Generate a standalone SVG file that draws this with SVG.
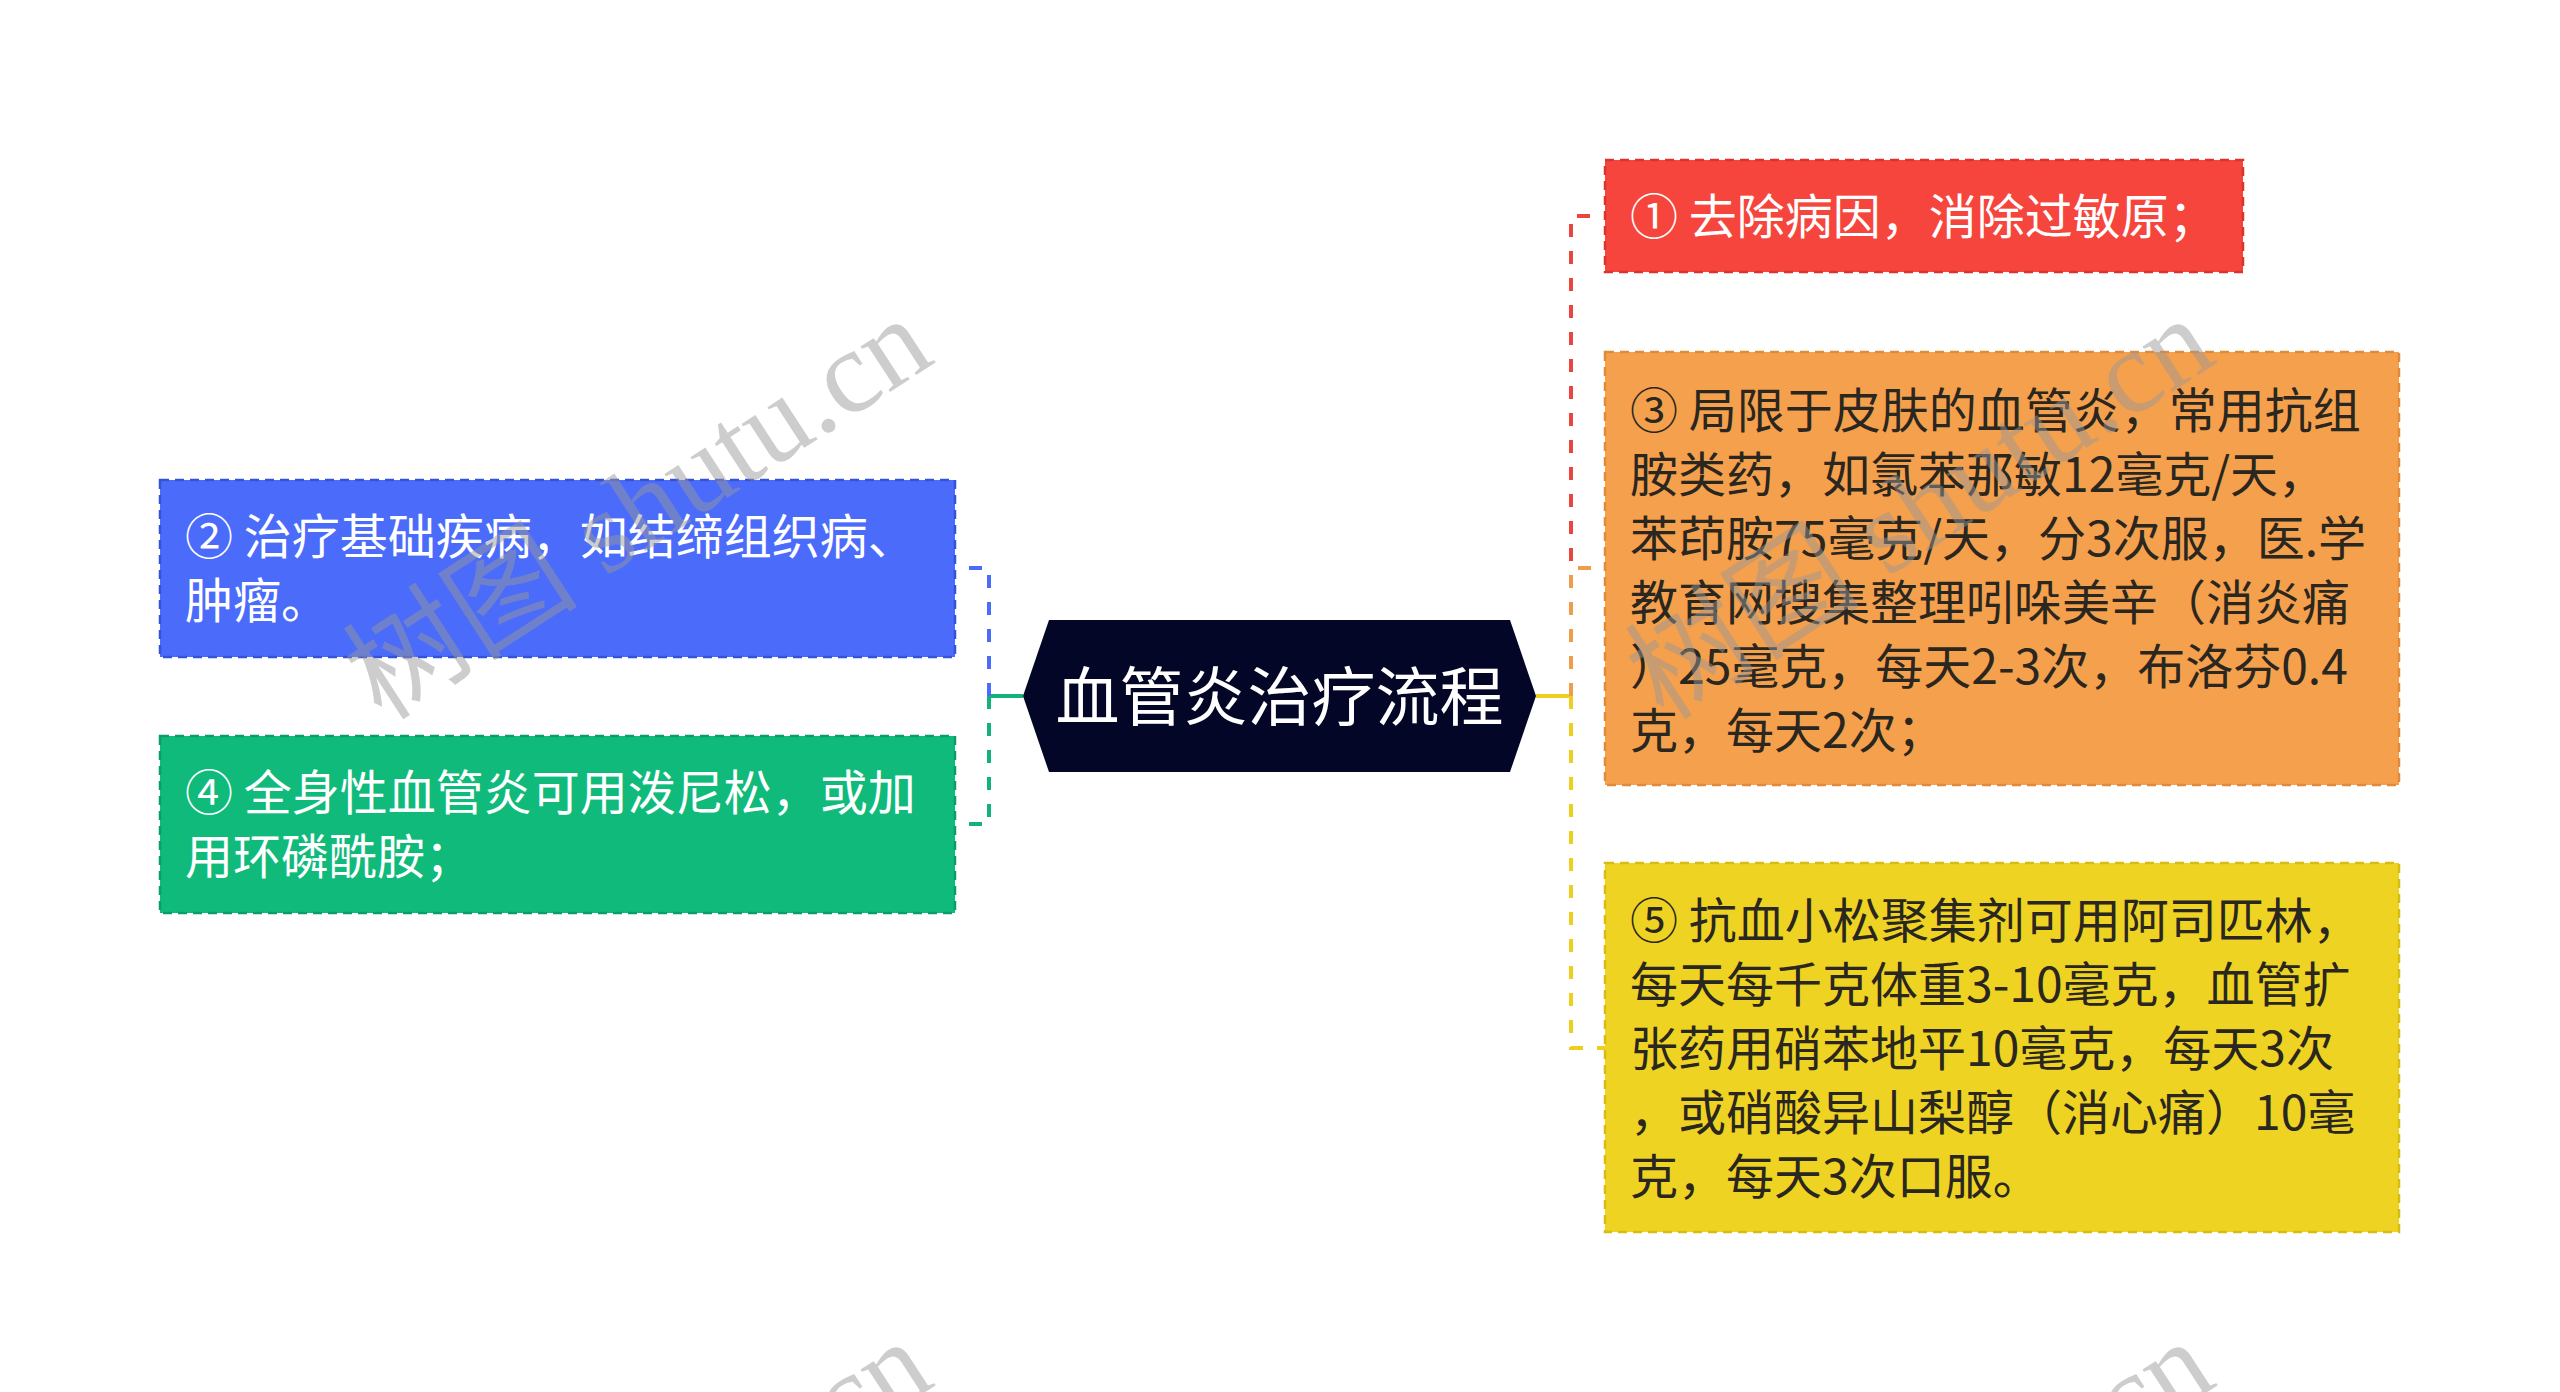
<svg xmlns="http://www.w3.org/2000/svg" width="2560" height="1392" viewBox="0 0 2560 1392">
<style>
.t{font-family:"Noto Sans CJK SC","Noto Sans",sans-serif;font-size:48px}
.w{fill:#ffffff}
.d{fill:#2a2620}
.box{stroke-width:2.5;stroke-dasharray:9 6}
.con{fill:none;stroke-width:4;stroke-dasharray:13 14}
.trunk{fill:none;stroke-width:4}
.wm{font-family:"Liberation Serif","Noto Sans CJK SC",serif;font-size:118px;fill:#999999;opacity:0.48}
</style>
<rect width="2560" height="1392" fill="#ffffff"/>
<g id="connectors">
<line class="trunk" x1="1023" y1="696" x2="989" y2="696" stroke="#12b27b"/>
<path class="con" d="M989,696 V568 H955" stroke="#4b6bfb"/>
<path class="con" d="M989,696 V824 H955" stroke="#12b27b"/>
<line class="trunk" x1="1536" y1="696" x2="1571" y2="696" stroke="#efcf1e"/>
<path class="con" d="M1571,696 V216 H1605" stroke="#e8463e"/>
<path class="con" d="M1571,696 V568 H1605" stroke="#ef9d4b"/>
<path class="con" d="M1571,696 V1048 H1605" stroke="#efcf1e"/>
</g>
<g id="root">
<polygon points="1023,696 1049,620 1510,620 1536,696 1510,772 1049,772" fill="#040628"/>
<text class="t w" x="1279.5" y="720" style="font-size:64px" text-anchor="middle">血管炎治疗流程</text>
</g>
<g id="node1">
<rect class="box" x="1605" y="160" width="638" height="112" fill="#f5453d" stroke="#d8352e"/>
<text class="t w" x="1630" y="234">① 去除病因，消除过敏原；</text>
</g>
<g id="node2">
<rect class="box" x="160" y="480" width="795" height="177" fill="#4b6bfb" stroke="#3553d6"/>
<text class="t w" x="185" y="554">② 治疗基础疾病，如结缔组织病、</text>
<text class="t w" x="185" y="618">肿瘤。</text>
</g>
<g id="node3">
<rect class="box" x="1605" y="352" width="794" height="433" fill="#f5a04c" stroke="#e08a3a"/>
<text class="t d" x="1630" y="428">③ 局限于皮肤的血管炎，常用抗组</text>
<text class="t d" x="1630" y="492">胺类药，如氯苯那敏12毫克/天，</text>
<text class="t d" x="1630" y="556">苯茚胺75毫克/天，分3次服，医.学</text>
<text class="t d" x="1630" y="620">教育网搜集整理吲哚美辛（消炎痛</text>
<text class="t d" x="1630" y="684">）25毫克，每天2-3次，布洛芬0.4</text>
<text class="t d" x="1630" y="748">克，每天2次；</text>
</g>
<g id="node4">
<rect class="box" x="160" y="736" width="795" height="177" fill="#10ba7b" stroke="#0a9e67"/>
<text class="t w" x="185" y="810">④ 全身性血管炎可用泼尼松，或加</text>
<text class="t w" x="185" y="874">用环磷酰胺；</text>
</g>
<g id="node5">
<rect class="box" x="1605" y="863" width="794" height="369" fill="#efd322" stroke="#d9bc12"/>
<text class="t d" x="1630" y="938">⑤ 抗血小松聚集剂可用阿司匹林，</text>
<text class="t d" x="1630" y="1002">每天每千克体重3-10毫克，血管扩</text>
<text class="t d" x="1630" y="1066">张药用硝苯地平10毫克，每天3次</text>
<text class="t d" x="1630" y="1130">，或硝酸异山梨醇（消心痛）10毫</text>
<text class="t d" x="1630" y="1194">克，每天3次口服。</text>
</g>
<g id="watermarks">
<text class="wm" transform="translate(382,722) rotate(-33)">树图 shutu.cn</text>
<text class="wm" transform="translate(1664,722) rotate(-33)">树图 shutu.cn</text>
<text class="wm" transform="translate(382,1745) rotate(-33)">树图 shutu.cn</text>
<text class="wm" transform="translate(1664,1745) rotate(-33)">树图 shutu.cn</text>
</g>
</svg>
